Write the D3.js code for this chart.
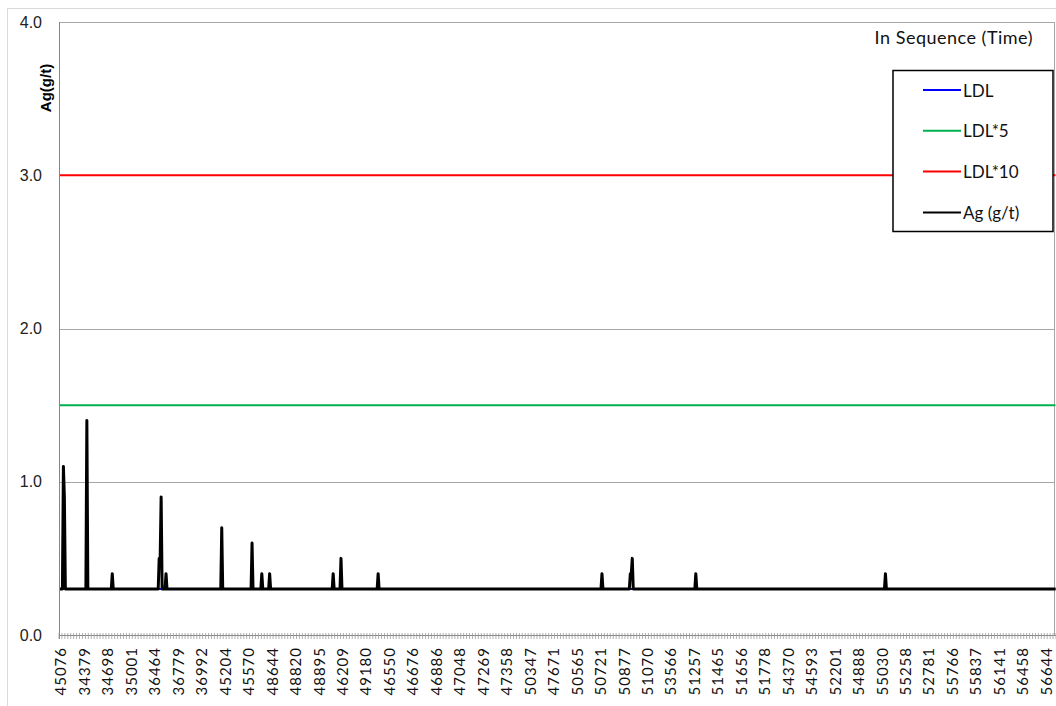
<!DOCTYPE html>
<html>
<head>
<meta charset="utf-8">
<script src="https://cdn.jsdelivr.net/npm/d3@7"></script>
<style>
    body { margin: 0; background: #fff; }
    svg { display: block; }
</style>
</head>
<body>
<div id="chart"></div>
<script>
// Ag (g/t) per sample in sequence, 30 samples per row; below detection shown at LDL (0.3)
const agValues = [
    0.3,0.3,0.3,0.3,1.1,0.9,0.3,0.3,0.3,0.3, 0.3,0.3,0.3,0.3,0.3,0.3,0.3,0.3,0.3,0.3, 0.3,0.3,0.3,0.3,0.3,0.3,0.3,0.3,1.4,0.3,
    0.3,0.3,0.3,0.3,0.3,0.3,0.3,0.3,0.3,0.3, 0.3,0.3,0.3,0.3,0.3,0.3,0.3,0.3,0.3,0.3, 0.3,0.3,0.3,0.3,0.4,0.3,0.3,0.3,0.3,0.3,
    0.3,0.3,0.3,0.3,0.3,0.3,0.3,0.3,0.3,0.3, 0.3,0.3,0.3,0.3,0.3,0.3,0.3,0.3,0.3,0.3, 0.3,0.3,0.3,0.3,0.3,0.3,0.3,0.3,0.3,0.3,
    0.3,0.3,0.3,0.3,0.3,0.3,0.3,0.3,0.3,0.3, 0.3,0.3,0.5,0.5,0.9,0.3,0.3,0.3,0.3,0.4, 0.3,0.3,0.3,0.3,0.3,0.3,0.3,0.3,0.3,0.3,
    0.3,0.3,0.3,0.3,0.3,0.3,0.3,0.3,0.3,0.3, 0.3,0.3,0.3,0.3,0.3,0.3,0.3,0.3,0.3,0.3, 0.3,0.3,0.3,0.3,0.3,0.3,0.3,0.3,0.3,0.3,
    0.3,0.3,0.3,0.3,0.3,0.3,0.3,0.3,0.3,0.3, 0.3,0.3,0.3,0.3,0.3,0.3,0.7,0.3,0.3,0.3, 0.3,0.3,0.3,0.3,0.3,0.3,0.3,0.3,0.3,0.3,
    0.3,0.3,0.3,0.3,0.3,0.3,0.3,0.3,0.3,0.3, 0.3,0.3,0.3,0.3,0.3,0.3,0.3,0.6,0.3,0.3, 0.3,0.3,0.3,0.3,0.3,0.3,0.3,0.4,0.3,0.3,
    0.3,0.3,0.3,0.3,0.3,0.4,0.3,0.3,0.3,0.3, 0.3,0.3,0.3,0.3,0.3,0.3,0.3,0.3,0.3,0.3, 0.3,0.3,0.3,0.3,0.3,0.3,0.3,0.3,0.3,0.3,
    0.3,0.3,0.3,0.3,0.3,0.3,0.3,0.3,0.3,0.3, 0.3,0.3,0.3,0.3,0.3,0.3,0.3,0.3,0.3,0.3, 0.3,0.3,0.3,0.3,0.3,0.3,0.3,0.3,0.3,0.3,
    0.3,0.3,0.3,0.3,0.3,0.3,0.3,0.3,0.3,0.3, 0.4,0.3,0.3,0.3,0.3,0.3,0.3,0.3,0.5,0.3, 0.3,0.3,0.3,0.3,0.3,0.3,0.3,0.3,0.3,0.3,
    0.3,0.3,0.3,0.3,0.3,0.3,0.3,0.3,0.3,0.3, 0.3,0.3,0.3,0.3,0.3,0.3,0.3,0.3,0.3,0.3, 0.3,0.3,0.3,0.3,0.3,0.3,0.4,0.3,0.3,0.3,
    0.3,0.3,0.3,0.3,0.3,0.3,0.3,0.3,0.3,0.3, 0.3,0.3,0.3,0.3,0.3,0.3,0.3,0.3,0.3,0.3, 0.3,0.3,0.3,0.3,0.3,0.3,0.3,0.3,0.3,0.3,
    0.3,0.3,0.3,0.3,0.3,0.3,0.3,0.3,0.3,0.3, 0.3,0.3,0.3,0.3,0.3,0.3,0.3,0.3,0.3,0.3, 0.3,0.3,0.3,0.3,0.3,0.3,0.3,0.3,0.3,0.3,
    0.3,0.3,0.3,0.3,0.3,0.3,0.3,0.3,0.3,0.3, 0.3,0.3,0.3,0.3,0.3,0.3,0.3,0.3,0.3,0.3, 0.3,0.3,0.3,0.3,0.3,0.3,0.3,0.3,0.3,0.3,
    0.3,0.3,0.3,0.3,0.3,0.3,0.3,0.3,0.3,0.3, 0.3,0.3,0.3,0.3,0.3,0.3,0.3,0.3,0.3,0.3, 0.3,0.3,0.3,0.3,0.3,0.3,0.3,0.3,0.3,0.3,
    0.3,0.3,0.3,0.3,0.3,0.3,0.3,0.3,0.3,0.3, 0.3,0.3,0.3,0.3,0.3,0.3,0.3,0.3,0.3,0.3, 0.3,0.3,0.3,0.3,0.3,0.3,0.3,0.3,0.3,0.3,
    0.3,0.3,0.3,0.3,0.3,0.3,0.3,0.3,0.3,0.3, 0.3,0.3,0.3,0.3,0.3,0.3,0.3,0.3,0.3,0.3, 0.3,0.3,0.3,0.3,0.3,0.3,0.3,0.3,0.3,0.3,
    0.3,0.3,0.3,0.3,0.3,0.3,0.3,0.3,0.3,0.3, 0.3,0.3,0.3,0.3,0.3,0.3,0.3,0.3,0.3,0.3, 0.3,0.3,0.3,0.3,0.3,0.3,0.3,0.3,0.3,0.3,
    0.3,0.3,0.3,0.3,0.3,0.3,0.3,0.3,0.3,0.3, 0.3,0.3,0.3,0.3,0.3,0.4,0.3,0.3,0.3,0.3, 0.3,0.3,0.3,0.3,0.3,0.3,0.3,0.3,0.3,0.3,
    0.3,0.3,0.3,0.3,0.3,0.3,0.3,0.3,0.3,0.3, 0.3,0.3,0.3,0.3,0.4,0.4,0.5,0.3,0.3,0.3, 0.3,0.3,0.3,0.3,0.3,0.3,0.3,0.3,0.3,0.3,
    0.3,0.3,0.3,0.3,0.3,0.3,0.3,0.3,0.3,0.3, 0.3,0.3,0.3,0.3,0.3,0.3,0.3,0.3,0.3,0.3, 0.3,0.3,0.3,0.3,0.3,0.3,0.3,0.3,0.3,0.3,
    0.3,0.3,0.3,0.3,0.3,0.3,0.3,0.3,0.3,0.3, 0.3,0.3,0.3,0.3,0.3,0.3,0.3,0.3,0.3,0.3, 0.3,0.4,0.3,0.3,0.3,0.3,0.3,0.3,0.3,0.3,
    0.3,0.3,0.3,0.3,0.3,0.3,0.3,0.3,0.3,0.3, 0.3,0.3,0.3,0.3,0.3,0.3,0.3,0.3,0.3,0.3, 0.3,0.3,0.3,0.3,0.3,0.3,0.3,0.3,0.3,0.3,
    0.3,0.3,0.3,0.3,0.3,0.3,0.3,0.3,0.3,0.3, 0.3,0.3,0.3,0.3,0.3,0.3,0.3,0.3,0.3,0.3, 0.3,0.3,0.3,0.3,0.3,0.3,0.3,0.3,0.3,0.3,
    0.3,0.3,0.3,0.3,0.3,0.3,0.3,0.3,0.3,0.3, 0.3,0.3,0.3,0.3,0.3,0.3,0.3,0.3,0.3,0.3, 0.3,0.3,0.3,0.3,0.3,0.3,0.3,0.3,0.3,0.3,
    0.3,0.3,0.3,0.3,0.3,0.3,0.3,0.3,0.3,0.3, 0.3,0.3,0.3,0.3,0.3,0.3,0.3,0.3,0.3,0.3, 0.3,0.3,0.3,0.3,0.3,0.3,0.3,0.3,0.3,0.3,
    0.3,0.3,0.3,0.3,0.3,0.3,0.3,0.3,0.3,0.3, 0.3,0.3,0.3,0.3,0.3,0.3,0.3,0.3,0.3,0.3, 0.3,0.3,0.3,0.3,0.3,0.3,0.3,0.3,0.3,0.3,
    0.3,0.3,0.3,0.3,0.3,0.3,0.3,0.3,0.3,0.3, 0.3,0.3,0.3,0.3,0.3,0.3,0.3,0.3,0.3,0.3, 0.3,0.3,0.3,0.3,0.3,0.3,0.3,0.3,0.3,0.3,
    0.3,0.3,0.3,0.3,0.3,0.4,0.3,0.3,0.3,0.3, 0.3,0.3,0.3,0.3,0.3,0.3,0.3,0.3,0.3,0.3, 0.3,0.3,0.3,0.3,0.3,0.3,0.3,0.3,0.3,0.3,
    0.3,0.3,0.3,0.3,0.3,0.3,0.3,0.3,0.3,0.3, 0.3,0.3,0.3,0.3,0.3,0.3,0.3,0.3,0.3,0.3, 0.3,0.3,0.3,0.3,0.3,0.3,0.3,0.3,0.3,0.3,
    0.3,0.3,0.3,0.3,0.3,0.3,0.3,0.3,0.3,0.3, 0.3,0.3,0.3,0.3,0.3,0.3,0.3,0.3,0.3,0.3, 0.3,0.3,0.3,0.3,0.3,0.3,0.3,0.3,0.3,0.3,
    0.3,0.3,0.3,0.3,0.3,0.3,0.3,0.3,0.3,0.3, 0.3,0.3,0.3,0.3,0.3,0.3,0.3,0.3,0.3,0.3, 0.3,0.3,0.3,0.3,0.3,0.3,0.3,0.3,0.3,0.3,
    0.3,0.3,0.3,0.3,0.3,0.3,0.3,0.3,0.3,0.3, 0.3,0.3,0.3,0.3,0.3,0.3,0.3,0.3,0.3,0.3, 0.3,0.3,0.3,0.3,0.3,0.3,0.3,0.3,0.3,0.3,
    0.3,0.3,0.3,0.3,0.3,0.3,0.3,0.3,0.3,0.3, 0.3,0.3,0.3,0.3,0.3,0.3,0.3,0.3,0.3,0.3, 0.3,0.3,0.3,0.3,0.3,0.3,0.3,0.3,0.3,0.3
];

// sample ids shown on the axis, every 24th sample
const tickLabels = [
    '45076', '34379', '34698', '35001', '36464', '36779', '36992', '45204', '45570', '48644',
    '48820', '48895', '46209', '49180', '46550', '46676', '46886', '47048', '47269', '47358',
    '50347', '47671', '50565', '50721', '50877', '51070', '53566', '51257', '51465', '51656',
    '51778', '54370', '54593', '52201', '54888', '55030', '55258', '52781', '55766', '55837',
    '56141', '56458', '56644'
];
const labelStep = 24;
const tickStep = 3;

const ldl = 0.3;
const limitNames = ['LDL', 'LDL*5', 'LDL*10'];
const limitFactors = [1, 5, 10];
const limitColors = ['#0000ff', '#00b050', '#ff0000'];

const yTicks = [0, 1, 2, 3, 4];

const width = 1056, height = 706;
const plot = { left: 59, top: 22, right: 1056, bottom: 635 };

const svg = d3.select('#chart')
    .append('svg')
    .attr('width', width)
    .attr('height', height);

// chart area border
svg.append('rect')
    .attr('x', 7.5).attr('y', 8.5)
    .attr('width', width).attr('height', height)
    .attr('fill', 'none')
    .attr('stroke', '#d9d9d9');

const categories = agValues.map((d, i) => i);

const x = d3.scaleBand()
    .domain(categories)
    .range([plot.left, plot.right]);

const y = d3.scaleLinear()
    .domain([0, 4])
    .range([plot.bottom, plot.top]);

const cx = i => x(i) + x.bandwidth() / 2;

// gridlines
svg.append('g')
    .selectAll('line')
    .data(yTicks.slice(1))
    .enter()
    .append('line')
    .attr('x1', plot.left)
    .attr('x2', plot.right - 1)
    .attr('y1', d => Math.round(y(d)) + 0.5)
    .attr('y2', d => Math.round(y(d)) + 0.5)
    .attr('stroke', '#a6a6a6')
    .attr('stroke-width', 1);

// right border of plot area
svg.append('line')
    .attr('x1', plot.right - 1.5).attr('x2', plot.right - 1.5)
    .attr('y1', plot.top).attr('y2', plot.bottom)
    .attr('stroke', '#a6a6a6');

// y axis labels
svg.append('g')
    .selectAll('text')
    .data(yTicks)
    .enter()
    .append('text')
    .attr('x', 42)
    .attr('y', d => y(d))
    .attr('text-anchor', 'end')
    .attr('dominant-baseline', 'central')
    .style('font-family', 'Liberation Sans, Arial, sans-serif')
    .style('font-size', '16px')
    .attr('fill', '#222')
    .text(d => d.toFixed(1));

svg.append('text')
    .attr('transform', 'translate(51,88) rotate(-90)')
    .attr('text-anchor', 'middle')
    .style('font-family', 'Liberation Sans, Arial, sans-serif')
    .style('font-size', '15px')
    .style('font-weight', 'bold')
    .text('Ag(g/t)');

// limit lines
const line = d3.line()
    .x((d, i) => cx(i))
    .y(d => y(d));

limitFactors.forEach((f, k) => {
    svg.append('path')
        .datum(categories.map(() => ldl * f))
        .attr('d', line)
        .attr('fill', 'none')
        .attr('stroke', limitColors[k])
        .attr('stroke-width', 2);
});

// Ag series
svg.append('path')
    .datum(agValues)
    .attr('d', line)
    .attr('fill', 'none')
    .attr('stroke', '#000')
    .attr('stroke-width', 3)
    .attr('stroke-linejoin', 'round');

// axes
svg.append('line')
    .attr('x1', plot.left).attr('x2', plot.right)
    .attr('y1', plot.bottom + 0.5).attr('y2', plot.bottom + 0.5)
    .attr('stroke', '#868686');

svg.append('line')
    .attr('x1', plot.left + 0.5).attr('x2', plot.left + 0.5)
    .attr('y1', plot.top).attr('y2', plot.bottom + 4)
    .attr('stroke', '#868686');

const tickIdx = categories.filter(i => i % tickStep === 0).concat([categories.length]);

svg.append('g')
    .selectAll('line')
    .data(tickIdx)
    .enter()
    .append('line')
    .attr('x1', d => d < categories.length ? x(d) : plot.right)
    .attr('x2', d => d < categories.length ? x(d) : plot.right)
    .attr('y1', plot.bottom - 2)
    .attr('y2', plot.bottom + 4)
    .attr('stroke', '#9a9a9a')
    .attr('stroke-width', 0.8);

svg.append('g')
    .selectAll('text')
    .data(tickLabels)
    .enter()
    .append('text')
    .attr('transform', (d, i) => 'translate(' + (cx(i * labelStep) + 7) + ',647) rotate(-90)')
    .attr('text-anchor', 'end')
    .style('font-family', 'Lato, sans-serif')
    .style('font-size', '15px')
    .style('letter-spacing', '1px')
    .attr('fill', '#111')
    .text(d => d);

// title inside plot
svg.append('text')
    .attr('x', 1033)
    .attr('y', 44)
    .attr('text-anchor', 'end')
    .style('font-family', 'Lato, sans-serif')
    .style('font-size', '18px')
    .style('letter-spacing', '0.5px')
    .attr('fill', '#111')
    .text('In Sequence (Time)');

// legend
const legendNames = limitNames.concat(['Ag (g/t)']);
const legendColors = limitColors.concat(['#000']);
const legend = svg.append('g');

legend.append('rect')
    .attr('x', 893).attr('y', 70.5)
    .attr('width', 160).attr('height', 161)
    .attr('fill', '#fff')
    .attr('stroke', '#000')
    .attr('stroke-width', 1.5);

legendNames.forEach((name, i) => {
    let ly = 90 + i * 40.8;
    legend.append('line')
        .attr('x1', 923).attr('x2', 961)
        .attr('y1', ly).attr('y2', ly)
        .attr('stroke', legendColors[i])
        .attr('stroke-width', 2);
    legend.append('text')
        .attr('x', 963)
        .attr('y', ly)
        .attr('dominant-baseline', 'central')
        .style('font-family', 'Lato, sans-serif')
        .style('font-size', '17px')
        .attr('fill', '#111')
        .text(name);
});
</script>
</body>
</html>
